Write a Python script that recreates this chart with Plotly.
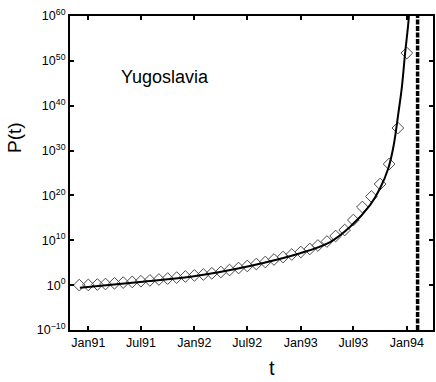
import plotly.graph_objects as go

# monthly price index P(t), stored as log10 values
months = ["1990-12-01", "1991-01-01", "1991-02-01", "1991-03-01", "1991-04-01",
          "1991-05-01", "1991-06-01", "1991-07-01", "1991-08-01", "1991-09-01",
          "1991-10-01", "1991-11-01", "1991-12-01", "1992-01-01", "1992-02-01",
          "1992-03-01", "1992-04-01", "1992-05-01", "1992-06-01", "1992-07-01",
          "1992-08-01", "1992-09-01", "1992-10-01", "1992-11-01", "1992-12-01",
          "1993-01-01", "1993-02-01", "1993-03-01", "1993-04-01", "1993-05-01",
          "1993-06-01", "1993-07-01", "1993-08-01", "1993-09-01", "1993-10-01",
          "1993-11-01", "1993-12-01", "1994-01-01"]
log_p = [0.0, 0.05, 0.14, 0.25, 0.41, 0.57, 0.72, 0.88, 1.06, 1.26,
         1.46, 1.68, 1.93, 2.17, 2.37, 2.64, 2.93, 3.37, 3.82, 4.27,
         4.71, 5.16, 5.72, 6.27, 6.83, 7.39, 8.06, 8.84, 9.73, 10.95,
         12.29, 14.52, 17.42, 19.76, 22.54, 27.0, 35.03, 51.74]

# fitted curve
fit_t = ["1990-12-03", "1991-06-28", "1991-12-31", "1992-07-10", "1992-12-30",
         "1993-04-12", "1993-06-20", "1993-08-28", "1993-10-01", "1993-10-29",
         "1993-11-16", "1993-12-03", "1993-12-15", "1993-12-26", "1994-01-07",
         "1994-01-09"]
fit_log_p = [-0.57, 0.72, 2.0, 4.27, 7.1, 9.6, 13.0, 17.9, 21.6, 26.0,
             30.9, 38.4, 44.2, 51.7, 59.1, 62.0]

t_c = "1994-02-07"  # critical time (dashed line)

x_tick_dates = ["1991-01-01", "1991-07-01", "1992-01-01", "1992-07-01",
                "1993-01-01", "1993-07-01", "1994-01-01"]
x_tick_labels = ["Jan91", "Jul91", "Jan92", "Jul92", "Jan93", "Jul93", "Jan94"]
y_exponents = [-10, 0, 10, 20, 30, 40, 50, 60]

font = "Liberation Sans, Arial, sans-serif"

fig = go.Figure()
fig.add_trace(go.Scatter(x=months, y=[10 ** v for v in log_p], mode="markers",
                         marker=dict(symbol="diamond-open", size=9, color="#4a4a4a",
                                     line=dict(width=1, color="#4a4a4a"))))
fig.add_trace(go.Scatter(x=fit_t, y=[10 ** v for v in fit_log_p], mode="lines",
                         line=dict(color="black", width=2, shape="spline")))
fig.add_trace(go.Scatter(x=[t_c, t_c], y=[1e-10, 1e60], mode="lines",
                         line=dict(color="black", width=3.5, dash="5px,1.5px")))

fig.update_layout(
    width=436, height=382,
    margin=dict(l=70, r=3, t=16, b=52, autoexpand=False),
    paper_bgcolor="white", plot_bgcolor="white",
    showlegend=False,
    font=dict(family=font, color="black", size=12.5),
    xaxis=dict(type="date", range=["1990-10-30", "1994-04-01"],
               tickvals=x_tick_dates, ticktext=x_tick_labels,
               ticks="inside", ticklen=4, tickwidth=1.5, tickcolor="black",
               showline=True, linewidth=2, linecolor="black", mirror="ticks",
               showgrid=False, zeroline=False, tickfont=dict(size=12.5)),
    yaxis=dict(type="log", range=[-10, 60],
               tickvals=[10.0 ** e for e in y_exponents],
               ticktext=["10<sup>%s</sup>" % str(e).replace("-", "\u2212") for e in y_exponents],
               ticks="inside", ticklen=4, tickwidth=1.5, tickcolor="black",
               showline=True, linewidth=2, linecolor="black", mirror="ticks",
               showgrid=False, zeroline=False, tickfont=dict(size=12.5),
               ticklabeloverflow="allow"),
    annotations=[
        dict(text="Yugoslavia", xref="paper", yref="paper", x=0.262, y=0.806,
             xanchor="center", yanchor="middle", showarrow=False, font=dict(size=18)),
        dict(text="P(t)", xref="paper", yref="paper", x=-0.153, y=0.613,
             xanchor="center", yanchor="middle", textangle=-90, showarrow=False,
             font=dict(size=19)),
        dict(text="t", xref="paper", yref="paper", x=0.556, y=-0.121,
             xanchor="center", yanchor="middle", showarrow=False, font=dict(size=20)),
    ],
)

# drop the default 8px body margin so the figure fills the window exactly
fig.write_html("out.html", config={"displayModeBar": False},
               post_script="document.body.style.margin = '0';")
